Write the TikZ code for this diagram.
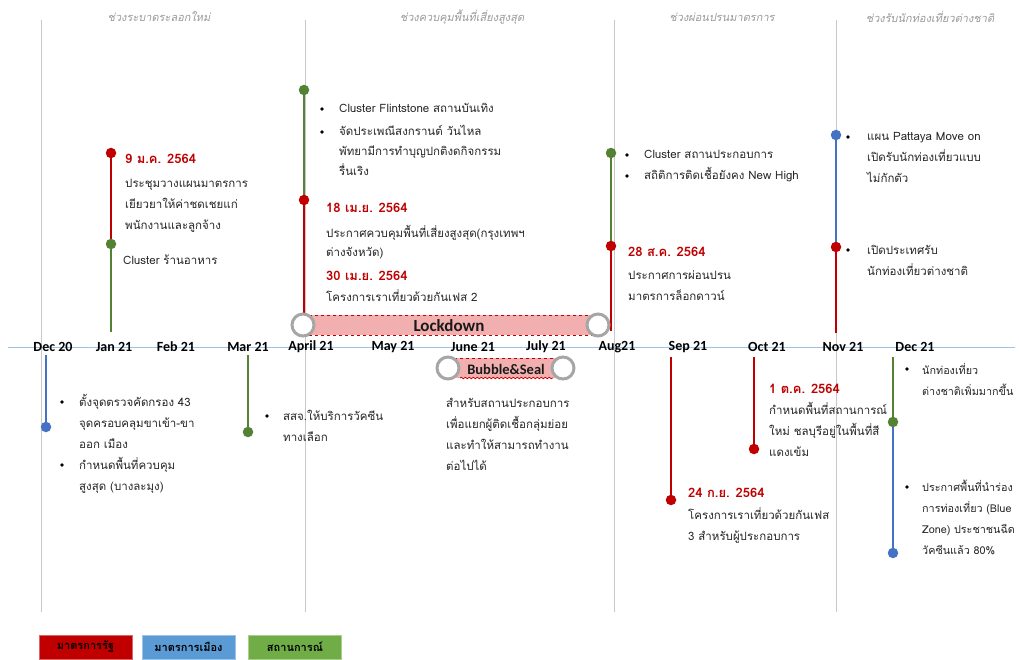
\documentclass[tikz,border=0pt]{standalone}
\usepackage{fontspec}
\usetikzlibrary{decorations.pathmorphing}
\newfontfamily\thai[Script=Thai]{Loma}
\newfontfamily\thaisl[Script=Thai,FakeSlant=0.2]{Loma}
\newfontfamily\calfont{Carlito}
\definecolor{redc}{HTML}{C00000}
\definecolor{greenc}{HTML}{548235}
\definecolor{bluec}{HTML}{4472C4}
\definecolor{legred}{HTML}{C00000}
\definecolor{legblue}{HTML}{5B9BD5}
\definecolor{leggreen}{HTML}{70AD47}
\definecolor{lockfill}{HTML}{F2AFAF}
\definecolor{sepc}{HTML}{C8C8C8}
\definecolor{axisc}{HTML}{9DC3E6}
\definecolor{ringc}{HTML}{A6A6A6}
\definecolor{txtc}{HTML}{262626}
\definecolor{hdrc}{HTML}{9A9A9A}
\pgfdeclarelayer{bg}
\pgfsetlayers{bg,main}
\tikzset{
  txt/.style={font=\thai\fontsize{11.5}{21}\selectfont, align=left, inner sep=0, anchor=base west, text=txtc},
  datelbl/.style={font=\thai\bfseries\fontsize{13}{15}\selectfont, text=redc, inner sep=0, anchor=base west},
  month/.style={font=\calfont\bfseries\fontsize{14}{16}\selectfont, inner sep=0, text=black},
  hdr/.style={font=\thaisl\fontsize{11}{13}\selectfont, text=hdrc, inner sep=0},
  sepline/.style={draw=sepc, line width=0.9pt},
  stem/.style={line width=2.8pt, draw=#1},
  dot/.style={circle, fill=#1, inner sep=0, minimum size=10.5pt},
  ring/.style={circle, draw=ringc, line width=3pt, fill=white, minimum size=22pt, inner sep=0},
  legbox/.style={fill=#1, draw=#1!60!white, minimum width=93pt, minimum height=24pt, inner sep=0,
    font=\thai\bfseries\fontsize{11}{13}\selectfont, text=black},
  bul/.style={fill=black},
}
\begin{document}
\begin{tikzpicture}[x=1pt,y=-1pt]
\useasboundingbox (0,0) rectangle (1019,660);

% separators and period headers
\coordinate (s1t) at (41,20); \coordinate (s1b) at (41,612);
\coordinate (s2t) at (305,20); \coordinate (s2b) at (305,612);
\coordinate (s3t) at (614,20); \coordinate (s3b) at (614,612);
\coordinate (s4t) at (836,20); \coordinate (s4b) at (836,612);
\node[hdr] (h1) at (159,17) {ช่วงระบาดระลอกใหม่};
\node[hdr] (h2) at (462,17) {ช่วงควบคุมพื้นที่เสี่ยงสูงสุด};
\node[hdr] (h3) at (722,17) {ช่วงผ่อนปรนมาตรการ};
\node[hdr] (h4) at (930,17) {ช่วงรับนักท่องเที่ยวต่างชาติ};

% axis
\coordinate (ax1) at (8,347); \coordinate (ax2) at (1015,347);

% Lockdown bar
\fill[lockfill] (303,315) rectangle (598,335);
\draw[redc, dashed, line width=0.8pt] (303,315) -- (598,315);
\draw[redc, dashed, line width=0.8pt] (303,335) -- (598,335);
\node[ring] (r1) at (303,325) {};
\node[ring] (r2) at (598,325) {};
\node[font=\calfont\bfseries\fontsize{17}{19}\selectfont, text=black!90] (lk) at (449,326) {Lockdown};

% Bubble & Seal bar
\fill[lockfill] (448,358) rectangle (563,378);
\draw[redc, dashed, line width=0.8pt] (448,358) -- (563,358);
\draw[redc, line width=0.7pt, decorate, decoration={snake, amplitude=0.8pt, segment length=4pt}] (460,378) -- (553,378);
\node[ring] (r3) at (448,368) {};
\node[ring] (r4) at (563,368) {};
\node[font=\calfont\bfseries\fontsize{14.5}{17}\selectfont, text=black!90] (bs) at (506,369) {Bubble\&Seal};

% months
\node[month] (m1) at (53,347) {Dec 20};
\node[month] (m2) at (114,347) {Jan 21};
\node[month] (m3) at (176,347) {Feb 21};
\node[month] (m4) at (248,347) {Mar 21};
\node[month] (m5) at (311,347) {April 21};
\node[month] (m6) at (393,347) {May 21};
\node[month] (m7) at (473,347) {June 21};
\node[month] (m8) at (546,347) {July 21};
\node[month] (m9) at (617,347) {Aug21};
\node[month] (m10) at (688,347) {Sep 21};
\node[month] (m11) at (767,347) {Oct 21};
\node[month] (m12) at (843,347) {Nov 21};
\node[month] (m13) at (915,347) {Dec 21};

% event dots
\coordinate (j0) at (111,332);
\node[dot=greenc] (j1) at (111,244) {};
\node[dot=redc] (j2) at (111,153) {};
\node[dot=redc] (a1) at (304,200) {};
\node[dot=greenc] (a2) at (304,90) {};
\coordinate (g0) at (611,331);
\node[dot=redc] (g1) at (611,246) {};
\node[dot=greenc] (g2) at (611,153) {};
\coordinate (n0) at (836,333);
\node[dot=redc] (n1) at (836,247) {};
\node[dot=bluec] (n2) at (836,135) {};
\coordinate (d0) at (46,355);
\node[dot=bluec] (d1) at (46,427) {};
\coordinate (mr0) at (248,355);
\node[dot=greenc] (mr1) at (248,432) {};
\coordinate (sp0) at (671,357);
\node[dot=redc] (sp1) at (671,500) {};
\coordinate (oc0) at (754,357);
\node[dot=redc] (oc1) at (754,449) {};
\coordinate (dc0) at (893,357);
\node[dot=greenc] (dc1) at (893,422) {};
\node[dot=bluec] (dc2) at (893,553) {};

\begin{pgfonlayer}{bg}
\fill[white] (0,0) rectangle (1019,660);
\draw[sepline] (s1t) -- (s1b);
\draw[sepline] (s2t) -- (s2b);
\draw[sepline] (s3t) -- (s3b);
\draw[sepline] (s4t) -- (s4b);
\draw[axisc, line width=1pt] (ax1) -- (ax2);
\draw[stem=greenc] (j0) -- (j1.center);
\draw[stem=redc] (j1.center) -- (j2.center);
\draw[stem=greenc] (a2.center) -- (a1.center);
\draw[stem=redc] (a1.center) -- (a1.center |- r1.north);
\draw[stem=greenc] (g2.center) -- (g1.center);
\draw[stem=redc] (g1.center) -- (g0);
\draw[stem=bluec] (n2.center) -- (n1.center);
\draw[stem=redc] (n1.center) -- (n0);
\draw[stem=bluec] (d0) -- (d1.center);
\draw[stem=greenc] (mr0) -- (mr1.center);
\draw[stem=redc] (sp0) -- (sp1.center);
\draw[stem=redc] (oc0) -- (oc1.center);
\draw[stem=greenc] (dc0) -- (dc1.center);
\draw[stem=bluec] (dc1.center) -- (dc2.center);
\end{pgfonlayer}

% bullets
\foreach \p in {(322,109),(322,132),(627,155),(627,176),(848,137),(848,250),(62,402),(62,465),(267,416),(907,369),(907,487)}
  \fill[bul] \p circle (1.9);

% texts (anchor = baseline of the last line)
\node[datelbl] (dt1) at (125,164) {9 ม.ค. 2564};
\node[txt] (t1) at (125,230) {ประชุมวางแผนมาตรการ\\เยียวยาให้ค่าชดเชยแก่\\พนักงานและลูกจ้าง};
\node[txt] (t2) at (123,264) {Cluster ร้านอาหาร};
\node[txt] (t3) at (339,113) {Cluster Flintstone สถานบันเทิง};
\node[txt, font=\thai\fontsize{11.5}{20}\selectfont] (t4) at (339,176) {จัดประเพณีสงกรานต์ วันไหล\\พัทยามีการทำบุญปกติงดกิจกรรม\\รื่นเริง};
\node[datelbl] (dt2) at (326,213) {18 เม.ย. 2564};
\node[txt, font=\thai\fontsize{11.5}{20}\selectfont] (t5) at (326,257) {ประกาศควบคุมพื้นที่เสี่ยงสูงสุด(กรุงเทพฯ\\ต่างจังหวัด)};
\node[datelbl] (dt3) at (326,280) {30 เม.ย. 2564};
\node[txt] (t6) at (326,301) {โครงการเราเที่ยวด้วยกันเฟส 2};
\node[txt] (t7) at (644,159) {Cluster สถานประกอบการ};
\node[txt] (t8) at (644,180) {สถิติการติดเชื้อยังคง New High};
\node[datelbl] (dt4) at (628,257) {28 ส.ค. 2564};
\node[txt] (t9) at (628,300) {ประกาศการผ่อนปรน\\มาตรการล็อกดาวน์};
\node[txt] (t10) at (867,183) {แผน Pattaya Move on\\เปิดรับนักท่องเที่ยวแบบ\\ไม่กักตัว};
\node[txt] (t11) at (867,276) {เปิดประเทศรับ\\นักท่องเที่ยวต่างชาติ};
\node[txt] (t12) at (79,448) {ตั้งจุดตรวจคัดกรอง 43\\จุดครอบคลุมขาเข้า-ขา\\ออก เมือง};
\node[txt] (t13) at (79,490) {กำหนดพื้นที่ควบคุม\\สูงสุด (บางละมุง)};
\node[txt] (t14) at (283,441) {สสจ.ให้บริการวัคซีน\\ทางเลือก};
\node[txt, font=\thai\fontsize{11.5}{20.7}\selectfont] (t15) at (446,470) {สำหรับสถานประกอบการ\\เพื่อแยกผู้ติดเชื้อกลุ่มย่อย\\และทำให้สามารถทำงาน\\ต่อไปได้};
\node[datelbl] (dt5) at (769,393) {1 ต.ค. 2564};
\node[txt] (t16) at (769,456) {กำหนดพื้นที่สถานการณ์\\ใหม่ ชลบุรีอยู่ในพื้นที่สี\\แดงเข้ม};
\node[datelbl] (dt6) at (688,497) {24 ก.ย. 2564};
\node[txt] (t17) at (688,540) {โครงการเราเที่ยวด้วยกันเฟส\\3 สำหรับผู้ประกอบการ};
\node[txt, font=\thai\fontsize{10.8}{21}\selectfont] (t18) at (922,395) {นักท่องเที่ยว\\ต่างชาติเพิ่มมากขึ้น};
\node[txt, font=\thai\fontsize{10.8}{21}\selectfont] (t19) at (922,554) {ประกาศพื้นที่นำร่อง\\การท่องเที่ยว (Blue\\Zone) ประชาชนฉีด\\วัคซีนแล้ว 80\%};

% legend
\node[legbox=legred] (l1) at (85.5,647) {มาตรการรัฐ};
\node[legbox=legblue] (l2) at (188.5,647) {มาตรการเมือง};
\node[legbox=leggreen] (l3) at (295,647) {สถานการณ์};
\end{tikzpicture}
\end{document}
